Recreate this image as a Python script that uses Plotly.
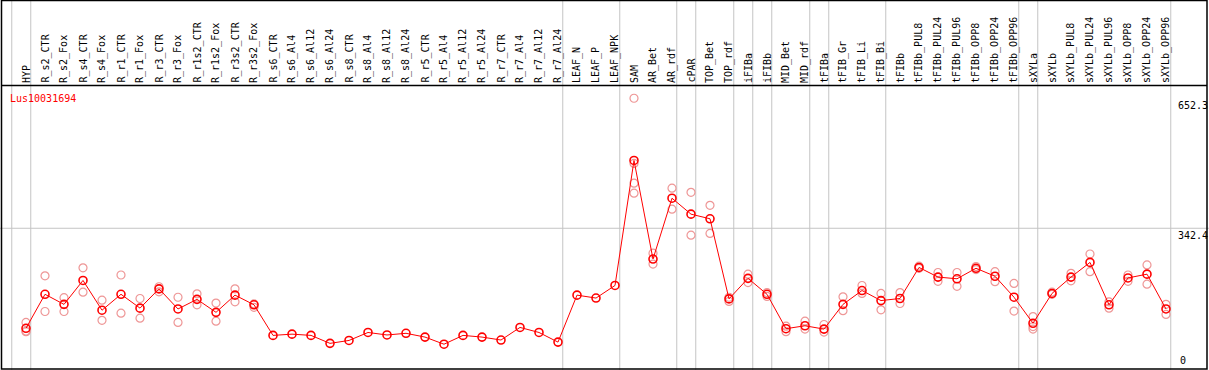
import plotly.graph_objects as go

categories = [
    "HYP", "R_s2_CTR", "R_s2_Fox", "R_s4_CTR", "R_s4_Fox", "R_r1_CTR", "R_r1_Fox",
    "R_r3_CTR", "R_r3_Fox", "R_r1s2_CTR", "R_r1s2_Fox", "R_r3s2_CTR", "R_r3s2_Fox",
    "R_s6_CTR", "R_s6_Al4", "R_s6_Al12", "R_s6_Al24", "R_s8_CTR", "R_s8_Al4",
    "R_s8_Al12", "R_s8_Al24", "R_r5_CTR", "R_r5_Al4", "R_r5_Al12", "R_r5_Al24",
    "R_r7_CTR", "R_r7_Al4", "R_r7_Al12", "R_r7_Al24", "LEAF_N", "LEAF_P", "LEAF_NPK",
    "SAM", "AR_Bet", "AR_rdf", "cPAR", "TOP_Bet", "TOP_rdf", "iFIBa", "iFIBb",
    "MID_Bet", "MID_rdf", "tFIBa", "tFIB_Gr", "tFIB_Li", "tFIB_Bi", "tFIBb",
    "tFIBb_PUL8", "tFIBb_PUL24", "tFIBb_PUL96", "tFIBb_OPP8", "tFIBb_OPP24",
    "tFIBb_OPP96", "sXYLa", "sXYLb", "sXYLb_PUL8", "sXYLb_PUL24", "sXYLb_PUL96",
    "sXYLb_OPP8", "sXYLb_OPP24", "sXYLb_OPP96",
]

mean_values = [
    104, 185, 161, 218, 147, 185, 152, 198, 150, 173, 142, 183, 160,
    87, 90, 87, 68, 75, 94, 88, 92, 83, 66, 87, 83, 76, 106, 94, 71,
    183, 176, 206,
    504, 269, 414, 376, 365, 174, 223, 185, 103, 110, 102, 161, 194, 170,
    175, 249, 226, 222, 247, 228, 178,
    116, 187, 226, 261, 160, 224, 233, 150,
]

replicate_values = [
    [118, 96, 97], [229, 144], [177, 144], [248, 190], [171, 123], [231, 140],
    [175, 128], [203, 191], [178, 118], [186, 160], [164, 121], [198, 167],
    [162, 154],
    [], [], [], [], [], [], [], [], [], [], [], [], [], [], [], [],
    [], [], [],
    [652.3, 497, 450, 426], [283, 257], [438, 388], [428, 326], [397, 330],
    [178, 168], [233, 213], [189, 180], [109, 96], [121, 102], [113, 95],
    [179, 146], [206, 187], [187, 148],
    [189, 163], [252, 247], [237, 216], [237, 204], [251, 244], [239, 215],
    [211, 145],
    [132, 102, 108], [190, 185], [235, 217], [281, 239], [167, 152],
    [231, 216], [255, 209], [161, 137],
]

# indices (1-based) after which a group separator line is drawn
group_breaks = [0, 1, 29, 32, 35, 36, 38, 39, 40, 42, 43, 46, 53, 54, 61]

tick_values = [0, 342.4, 652.3]
gene_name = "Lus10031694"

W, H = 1209, 370
TOP = 86
PH = H - TOP
FONT = "DejaVu Sans Mono"

x_idx = list(range(1, len(categories) + 1))

rep_x, rep_y = [], []
for i, reps in zip(x_idx, replicate_values):
    for r in reps:
        rep_x.append(i)
        rep_y.append(r)

fig = go.Figure()
fig.add_trace(go.Scatter(
    x=rep_x, y=rep_y, mode="markers",
    marker=dict(symbol="circle-open", size=8, color="rgb(238,150,150)",
                line=dict(width=1.2, color="rgb(238,150,150)")),
    hoverinfo="skip", showlegend=False, cliponaxis=False,
))
fig.add_trace(go.Scatter(
    x=x_idx, y=mean_values, mode="lines+markers",
    line=dict(color="#ff0000", width=1),
    marker=dict(symbol="circle-open", size=8, color="#ff0000",
                line=dict(width=1.6, color="#ff0000")),
    hoverinfo="skip", showlegend=False, cliponaxis=False,
))

def py(pix):
    return (H - pix) / PH

shapes = []
for b in group_breaks:
    shapes.append(dict(type="line", xref="x", yref="paper", x0=b + 0.25, x1=b + 0.25,
                       y0=0, y1=py(0), line=dict(color="#c4c4c4", width=1), layer="below"))
shapes.append(dict(type="line", xref="paper", yref="y", x0=0, x1=1,
                   y0=tick_values[1], y1=tick_values[1],
                   line=dict(color="#c4c4c4", width=1), layer="below"))
shapes.append(dict(type="rect", xref="paper", yref="paper",
                   x0=1.5 / W, x1=1207 / W, y0=py(369), y1=py(0.5),
                   line=dict(color="black", width=1.5), fillcolor="rgba(0,0,0,0)"))
shapes.append(dict(type="line", xref="paper", yref="paper",
                   x0=1.5 / W, x1=1207 / W, y0=py(85.5), y1=py(85.5),
                   line=dict(color="black", width=1.5)))

annotations = []
for i, c in zip(x_idx, categories):
    annotations.append(dict(
        x=i, xref="x", y=py(84), yref="paper", text=c, textangle=-90,
        showarrow=False, xanchor="center", yanchor="bottom", borderpad=0,
        font=dict(family=FONT, size=10, color="black"),
    ))

annotations.append(dict(
    x=9 / W, xref="paper", y=py(92), yref="paper", text=gene_name,
    showarrow=False, xanchor="left", yanchor="top", borderpad=0,
    font=dict(family=FONT, size=10, color="#ff0000"),
))

for t in tick_values:
    label = "0" if t == 0 else f"{t:.1f}"
    if t == 0:
        annotations.append(dict(
            x=1179 / W, xref="paper", y=py(367), yref="paper", text=label,
            showarrow=False, xanchor="left", yanchor="bottom", borderpad=0,
            font=dict(family=FONT, size=10, color="black"),
        ))
    else:
        annotations.append(dict(
            x=1177 / W, xref="paper", y=t, yref="y", text=label,
            showarrow=False, xanchor="left", yanchor="top", borderpad=0,
            yshift=-1,
            font=dict(family=FONT, size=10, color="black"),
        ))

x_lo = -7 / 19
x_hi = (W - 7) / 19
y_lo = (371.9 - H) / 0.4195
y_hi = (371.9 - TOP) / 0.4195

fig.update_layout(
    width=W, height=H,
    margin=dict(l=0, r=0, t=TOP, b=0, pad=0),
    paper_bgcolor="white", plot_bgcolor="white",
    xaxis=dict(range=[x_lo, x_hi], visible=False, showgrid=False, zeroline=False),
    yaxis=dict(range=[y_lo, y_hi], visible=False, showgrid=False, zeroline=False),
    shapes=shapes, annotations=annotations,
    hovermode=False, showlegend=False,
)

fig.write_html(
    "out.html",
    config={"displayModeBar": False},
    post_script="document.body.style.margin='0';document.body.style.overflow='hidden';",
)
